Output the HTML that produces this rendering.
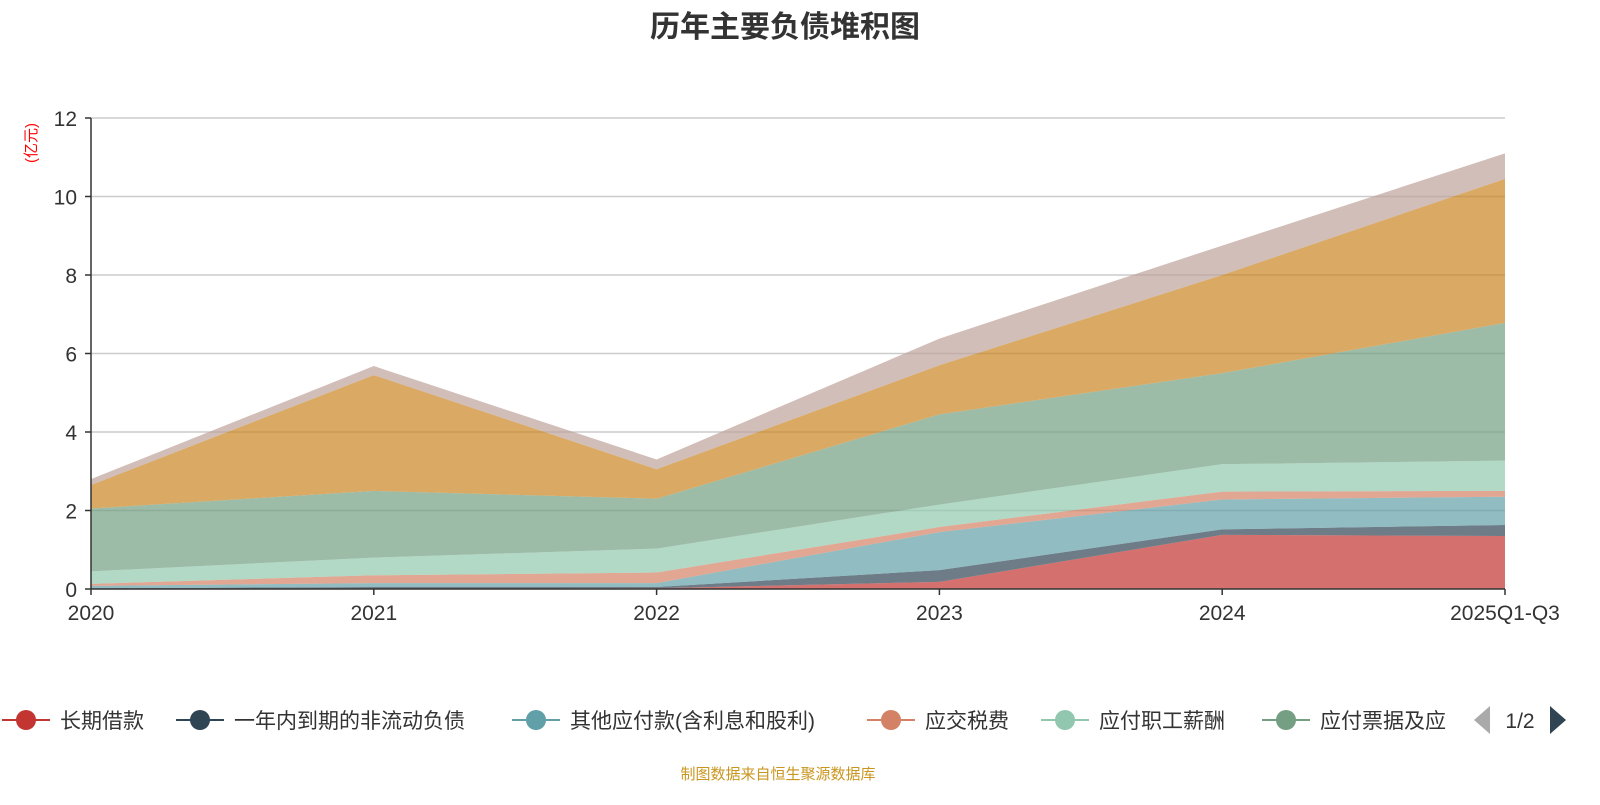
<!DOCTYPE html>
<html><head><meta charset="utf-8"><style>
body{margin:0;background:#fff;}
svg text{font-family:"Liberation Sans","Noto Sans CJK SC",sans-serif;}
</style></head><body>
<svg width="1600" height="800" xmlns="http://www.w3.org/2000/svg">
<text x="785" y="37" text-anchor="middle" font-size="30" font-weight="bold" fill="#333">历年主要负债堆积图</text>
<text transform="translate(36,143) rotate(-90)" text-anchor="middle" font-size="15" fill="#ff0000">(亿元)</text>
<g id="grid"></g>
<g id="areas"></g>
<g id="axes"></g>
<g id="legend"></g>
<text x="778" y="779" text-anchor="middle" font-size="15" fill="#c9961f">制图数据来自恒生聚源数据库</text>
</svg>
<script>
const categories=["2020","2021","2022","2023","2024","2025Q1-Q3"];
const seriesNames=["长期借款","一年内到期的非流动负债","其他应付款(含利息和股利)","应交税费","应付职工薪酬","应付票据及应付账款","合同负债","其他"];
const s0=[0,0,0.02,0.18,1.38,1.35];
const s1=[0.02,0.05,0.03,0.30,0.14,0.28];
const s2=[0.06,0.10,0.10,0.97,0.76,0.72];
const s3=[0.05,0.20,0.27,0.13,0.20,0.15];
const s4=[0.32,0.45,0.61,0.57,0.70,0.77];
const s5=[1.60,1.70,1.27,2.30,2.32,3.51];
const s6=[0.60,2.95,0.75,1.25,2.50,3.67];
const s7=[0.15,0.23,0.25,0.68,0.75,0.65];
const yTicks=[0,2,4,6,8,10,12];
const series=[s0,s1,s2,s3,s4,s5,s6,s7];
const colors=["#c23531","#2f4554","#61a0a8","#d48265","#91c7ae","#749f83","#ca8622","#bda29a"];
const NS="http://www.w3.org/2000/svg";
const X0=91,X1=1505,Y0=589,Y1=118,YMAX=12;
const xs=i=>X0+(X1-X0)*i/(categories.length-1);
const ys=v=>Y0-(Y0-Y1)*v/YMAX;
function mk(tag,attrs,parent){const e=document.createElementNS(NS,tag);for(const k in attrs)e.setAttribute(k,attrs[k]);parent.appendChild(e);return e;}
const grid=document.getElementById('grid'),axes=document.getElementById('axes'),areas=document.getElementById('areas'),legend=document.getElementById('legend');
yTicks.forEach(t=>{
  const y=ys(t);
  if(t>0){const gl=mk('line',{x1:X0,x2:X1,y1:y,y2:y,stroke:'#ccc','stroke-width':1.5},grid);
  
  }
  mk('line',{x1:X0-6,x2:X0,y1:y,y2:y,stroke:'#333','stroke-width':1.5},axes);
  const tx=mk('text',{x:X0-14,y:y+8,'text-anchor':'end','font-size':21,fill:'#333'},axes);
  tx.textContent=t;
  
  
});
let base=categories.map(()=>0);
series.forEach((s,k)=>{
  const top=base.map((b,i)=>b+s[i]);
  let d='';
  top.forEach((v,i)=>{d+=(i?'L':'M')+xs(i)+','+ys(v);});
  for(let i=base.length-1;i>=0;i--)d+='L'+xs(i)+','+ys(base[i]);
  const p=mk('path',{d:d+'Z',fill:colors[k],'fill-opacity':0.7},areas);
  
  
  base=top;
});
mk('line',{x1:X0,x2:X0,y1:Y1,y2:Y0,stroke:'#333','stroke-width':1.5},axes);
mk('line',{x1:X0,x2:X1,y1:Y0,y2:Y0,stroke:'#333','stroke-width':1.5},axes);
categories.forEach((c,i)=>{
  const x=xs(i);
  mk('line',{x1:x,x2:x,y1:Y0,y2:Y0+6,stroke:'#333','stroke-width':1.5},axes);
  const t=mk('text',{x:x,y:Y0+31,'text-anchor':'middle','font-size':21,fill:'#333'},axes);
  t.textContent=c;
  
  
});
const legX=[2,176,512,867,1041,1262];
const legLabels=["长期借款","一年内到期的非流动负债","其他应付款(含利息和股利)","应交税费","应付职工薪酬","应付票据及应"];
legLabels.forEach((l,k)=>{
  const g=mk('g',{},legend);
  
  
  const x=legX[k];
  mk('line',{x1:x,x2:x+48,y1:720,y2:720,stroke:colors[k],'stroke-width':2},g);
  mk('circle',{cx:x+24,cy:720,r:10,fill:colors[k]},g);
  const t=mk('text',{x:x+58,y:728,'font-size':21,fill:'#333'},g);
  t.textContent=l;
});
const pg=mk('g',{},legend);


mk('rect',{x:1460,y:700,width:20,height:40,fill:'#fff'},pg);
mk('path',{d:'M1490,706 L1474,720 L1490,734 Z',fill:'#aaa'},pg);
const pt=mk('text',{x:1520,y:728,'text-anchor':'middle','font-size':21,fill:'#333'},pg);
pt.textContent='1/2';
mk('path',{d:'M1550,706 L1566,720 L1550,734 Z',fill:'#2f4554'},pg);
</script>
</body></html>
